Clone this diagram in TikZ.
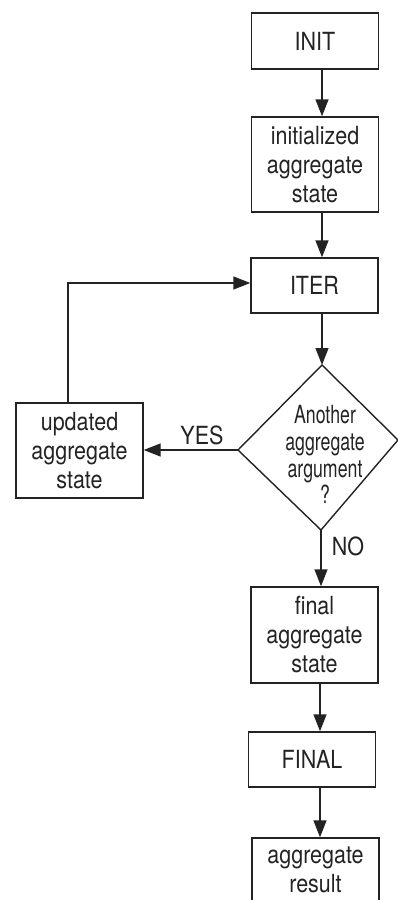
\documentclass[tikz,border=0pt]{standalone}
\usepackage{fontspec}
\setmainfont{TeX Gyre Heros}[FakeStretch=0.86]
\newfontfamily\diafont{TeX Gyre Heros}[FakeStretch=0.71]
\usetikzlibrary{arrows.meta}
\definecolor{lc}{RGB}{35,35,35}
\begin{document}
\begin{tikzpicture}[x=0.5pt,y=-0.5pt,
  line width=0.7pt,
  txt/.style={text=lc, font=\fontsize{12.5}{14.5}\selectfont, align=center},
  diatxt/.style={text=lc, font=\diafont\fontsize{12.5}{13.4}\selectfont, align=center, inner sep=0pt},
  box/.style={txt, draw=lc, inner sep=0pt, minimum width=63.5pt},
  arr/.style={draw=lc, -{Triangle[length=8.5pt,width=6.5pt]}}]
\useasboundingbox (0,0) rectangle (397,900);
\node[box, minimum height=28pt] (INIT) at (315,41) {INIT};
\node[box, minimum height=47.5pt] (init) at (315,164.5) {initialized\\aggregate\\state};
\node[box, minimum height=27.5pt] (ITER) at (314.5,285.5) {ITER};
\coordinate (dtop) at (322,365);
\coordinate (dright) at (398,440);
\coordinate (dbot) at (321,530);
\coordinate (dleft) at (238,450);
\draw[lc, line join=miter] (dtop) -- (dright) -- (dbot) -- (dleft) -- cycle;
\node[diatxt] (diatext) at (325,454.5) {Another\\aggregate\\argument\\?};
\node[box, minimum height=47.5pt] (upd) at (79.5,450.5) {updated\\aggregate\\state};
\node[box, minimum height=48pt] (fas) at (314.5,635) {final\\aggregate\\state};
\node[box, minimum height=27.5pt] (FINAL) at (312,759.5) {FINAL};
\node[box, minimum height=32pt] (res) at (315.5,870) {aggregate\\result};
\node[txt] (yes) at (202,435) {YES};
\node[txt] (no) at (348,546) {NO};
\draw[arr] ([xshift=3.5pt]INIT.south) -- ([xshift=3.5pt]INIT.south |- init.north);
\draw[arr] ([xshift=3.5pt]init.south) -- ([xshift=3.5pt]init.south |- ITER.north);
\draw[arr] (dtop |- ITER.south) -- (dtop);
\draw[arr] (dbot) -- (dbot |- fas.north);
\draw[arr] (dleft) -- (dleft -| upd.east);
\draw[arr] ([xshift=-5.75pt]upd.north) |- ([yshift=1.25pt]ITER.west);
\draw[arr] ([xshift=2.75pt]fas.south) -- ([xshift=2.75pt]fas.south |- FINAL.north);
\draw[arr] ([xshift=4pt]FINAL.south) -- ([xshift=4pt]FINAL.south |- res.north);
\end{tikzpicture}
\end{document}
